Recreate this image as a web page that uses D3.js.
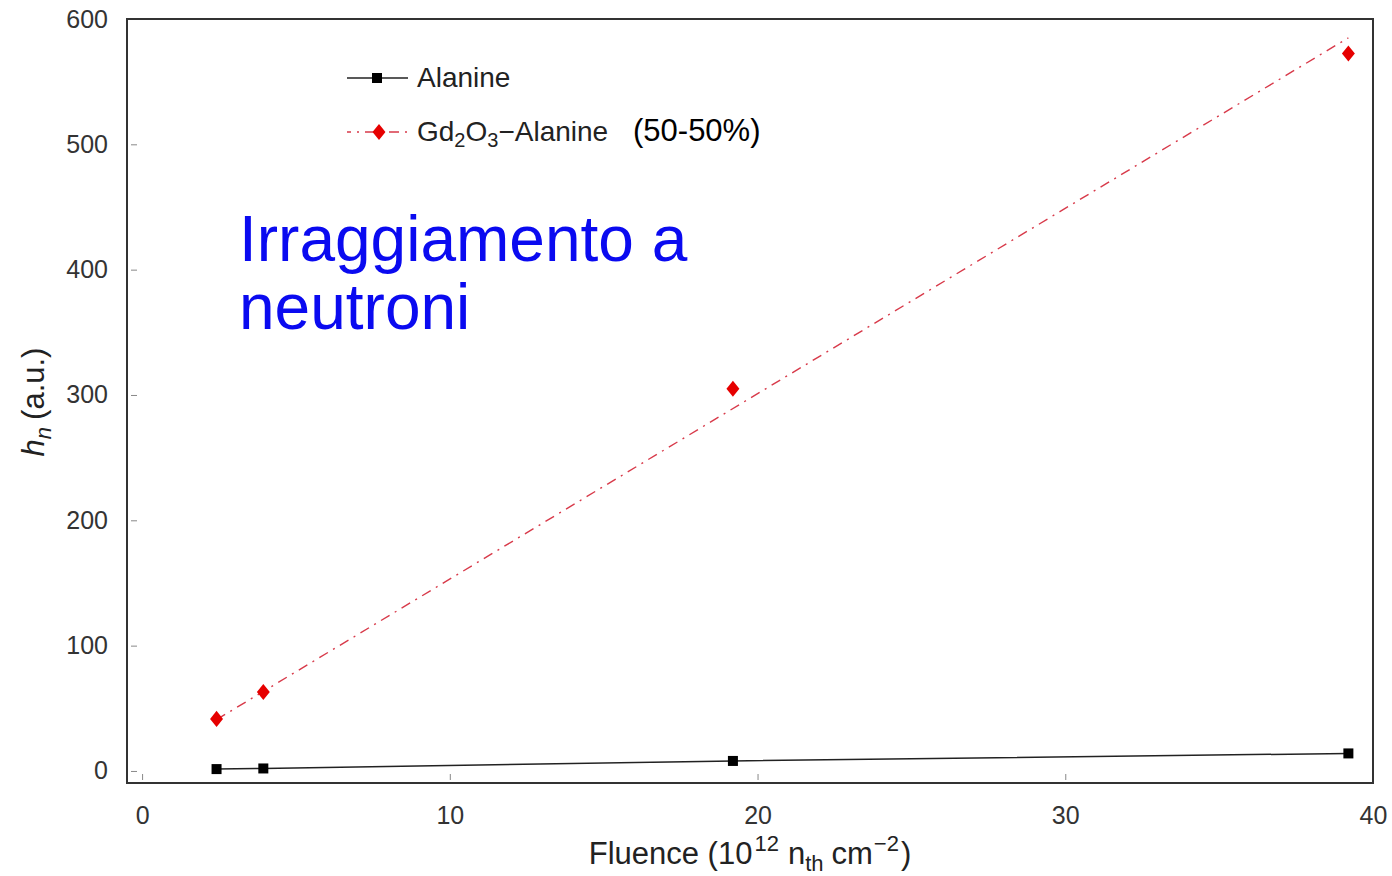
<!DOCTYPE html>
<html>
<head>
<meta charset="utf-8">
<script src="https://cdn.jsdelivr.net/npm/d3@7"></script>
<style>
  html, body { margin: 0; padding: 0; background: #fff; }
  svg { display: block; font-family: "Liberation Sans", Arial, Helvetica, sans-serif; }
</style>
</head>
<body>
<svg id="chart" width="1392" height="876"></svg>
<script>
// Fluence values (10^12 n_th cm^-2)
const fluence = [2.42, 3.94, 19.2, 39.2];
// Signal amplitude h_n (a.u.)
const alanine = [1.5, 2, 8, 14];
const gdAlanine = [41.5, 63, 305, 572.5];
// Linear fit through the Gd2O3-Alanine points
const fitX = [2.42, 39.2];
const fitY = [41, 585];
const xTicks = [0, 10, 20, 30, 40];
const yTicks = [0, 100, 200, 300, 400, 500, 600];

const svg = d3.select("#chart");
const plotL = 127, plotR = 1373, plotT = 19, plotB = 783;

const x = d3.scaleLinear().domain([-0.49, 40]).range([plotL, plotR]);
const y = d3.scaleLinear().domain([-9.6, 600]).range([plotB, plotT]);

// tick marks (short, inward) and labels
const xAxis = d3.axisBottom(x).tickValues(xTicks).tickSize(-6).tickPadding(20).tickFormat(d3.format("d"));
const yAxis = d3.axisLeft(y).tickValues(yTicks).tickSize(-6).tickPadding(19).tickFormat(d3.format("d"));

const gx = svg.append("g").attr("transform", `translate(0,${plotB})`).call(xAxis);
const gy = svg.append("g").attr("transform", `translate(${plotL},0)`).call(yAxis);
[gx, gy].forEach(g => {
  g.select(".domain").remove();
  g.selectAll(".tick line").attr("stroke", "#888").attr("stroke-width", 1);
  g.selectAll(".tick text").attr("fill", "#333").style("font-size", "25px");
});
gx.selectAll(".tick line").attr("y1", -3).attr("y2", -9);
gx.selectAll(".tick text").attr("dy", "0.85em");
gy.selectAll(".tick line").attr("x1", 4).attr("x2", 10);

// frame
svg.append("rect")
  .attr("x", plotL).attr("y", plotT)
  .attr("width", plotR - plotL).attr("height", plotB - plotT)
  .attr("fill", "none").attr("stroke", "#333").attr("stroke-width", 2);

// diamond marker, a little wider than d3's built-in one
const diamondType = {
  draw(ctx, size) {
    const h = Math.sqrt(size) * 0.62, w = h * 0.8;
    ctx.moveTo(0, -h); ctx.lineTo(w, 0); ctx.lineTo(0, h); ctx.lineTo(-w, 0); ctx.closePath();
  }
};
const diamond = d3.symbol().type(diamondType).size(170);

// Alanine series: solid black line with square markers
const line = d3.line().x(d => x(d[0])).y(d => y(d[1]));
const alaPts = fluence.map((f, i) => [f, alanine[i]]);
svg.append("path").datum(alaPts)
  .attr("d", line).attr("fill", "none").attr("stroke", "#222").attr("stroke-width", 1.5);
svg.selectAll(".sq").data(alaPts).enter().append("rect")
  .attr("x", d => x(d[0]) - 5).attr("y", d => y(d[1]) - 5)
  .attr("width", 10).attr("height", 10).attr("fill", "#000");

// Gd2O3-Alanine series: dash-dot red fit with diamond markers
const fitPts = fitX.map((f, i) => [f, fitY[i]]);
svg.append("path").datum(fitPts)
  .attr("d", line).attr("fill", "none").attr("stroke", "#d83a4a").attr("stroke-width", 1.4)
  .attr("stroke-dasharray", "10,6,2,6");
const gdPts = fluence.map((f, i) => [f, gdAlanine[i]]);
svg.selectAll(".dm").data(gdPts).enter().append("path")
  .attr("d", diamond)
  .attr("transform", d => `translate(${x(d[0])},${y(d[1])})`)
  .attr("fill", "#e60000");

// legend
const lg = svg.append("g");
lg.append("line").attr("x1", 347).attr("x2", 408).attr("y1", 78).attr("y2", 78)
  .attr("stroke", "#222").attr("stroke-width", 1.5);
lg.append("rect").attr("x", 372).attr("y", 73).attr("width", 10).attr("height", 10).attr("fill", "#000");
lg.append("text").attr("x", 417).attr("y", 87).attr("fill", "#222").style("font-size", "28px").text("Alanine");

lg.append("line").attr("x1", 347).attr("x2", 408).attr("y1", 132).attr("y2", 132)
  .attr("stroke", "#d83a4a").attr("stroke-width", 1.4).attr("stroke-dasharray", "10,6,2,6")
  .attr("stroke-dashoffset", 6);
lg.append("path").attr("d", diamond).attr("transform", "translate(379,132)").attr("fill", "#e60000");
const t2 = lg.append("text").attr("x", 417).attr("y", 141).attr("fill", "#222").style("font-size", "28px");
t2.append("tspan").text("Gd");
t2.append("tspan").attr("dy", 6).style("font-size", "20px").text("2");
t2.append("tspan").attr("dy", -6).text("O");
t2.append("tspan").attr("dy", 6).style("font-size", "20px").text("3");
t2.append("tspan").attr("dy", -6).text("\u2212Alanine");
t2.append("tspan").attr("fill", "#000").attr("x", 633).style("font-size", "31px").text("(50-50%)");

// annotation
const ann = svg.append("text").attr("fill", "#0a0af0").style("font-size", "64px");
ann.append("tspan").attr("x", 239).attr("y", 261).text("Irraggiamento a");
ann.append("tspan").attr("x", 239).attr("y", 329).text("neutroni");

// axis titles
const xt = svg.append("text").attr("x", 750).attr("y", 864).attr("text-anchor", "middle")
  .attr("fill", "#222").style("font-size", "31px");
xt.append("tspan").text("Fluence (10");
xt.append("tspan").attr("dy", -13).attr("dx", 2).style("font-size", "22px").text("12");
xt.append("tspan").attr("dy", 13).attr("dx", 9).text("n");
xt.append("tspan").attr("dy", 7).style("font-size", "22px").text("th");
xt.append("tspan").attr("dy", -7).attr("dx", 8).text("cm");
xt.append("tspan").attr("dy", -13).attr("dx", 1).style("font-size", "22px").text("\u22122");
xt.append("tspan").attr("dy", 13).attr("dx", 2).text(")");

const yt = svg.append("text").attr("transform", "translate(44,402) rotate(-90)")
  .attr("text-anchor", "middle").attr("fill", "#222").style("font-size", "31px");
yt.append("tspan").style("font-style", "italic").text("h");
yt.append("tspan").attr("dy", 7).style("font-style", "italic").style("font-size", "22px").text("n");
yt.append("tspan").attr("dy", -7).attr("dx", 7).text("(a.u.)");
</script>
</body>
</html>
